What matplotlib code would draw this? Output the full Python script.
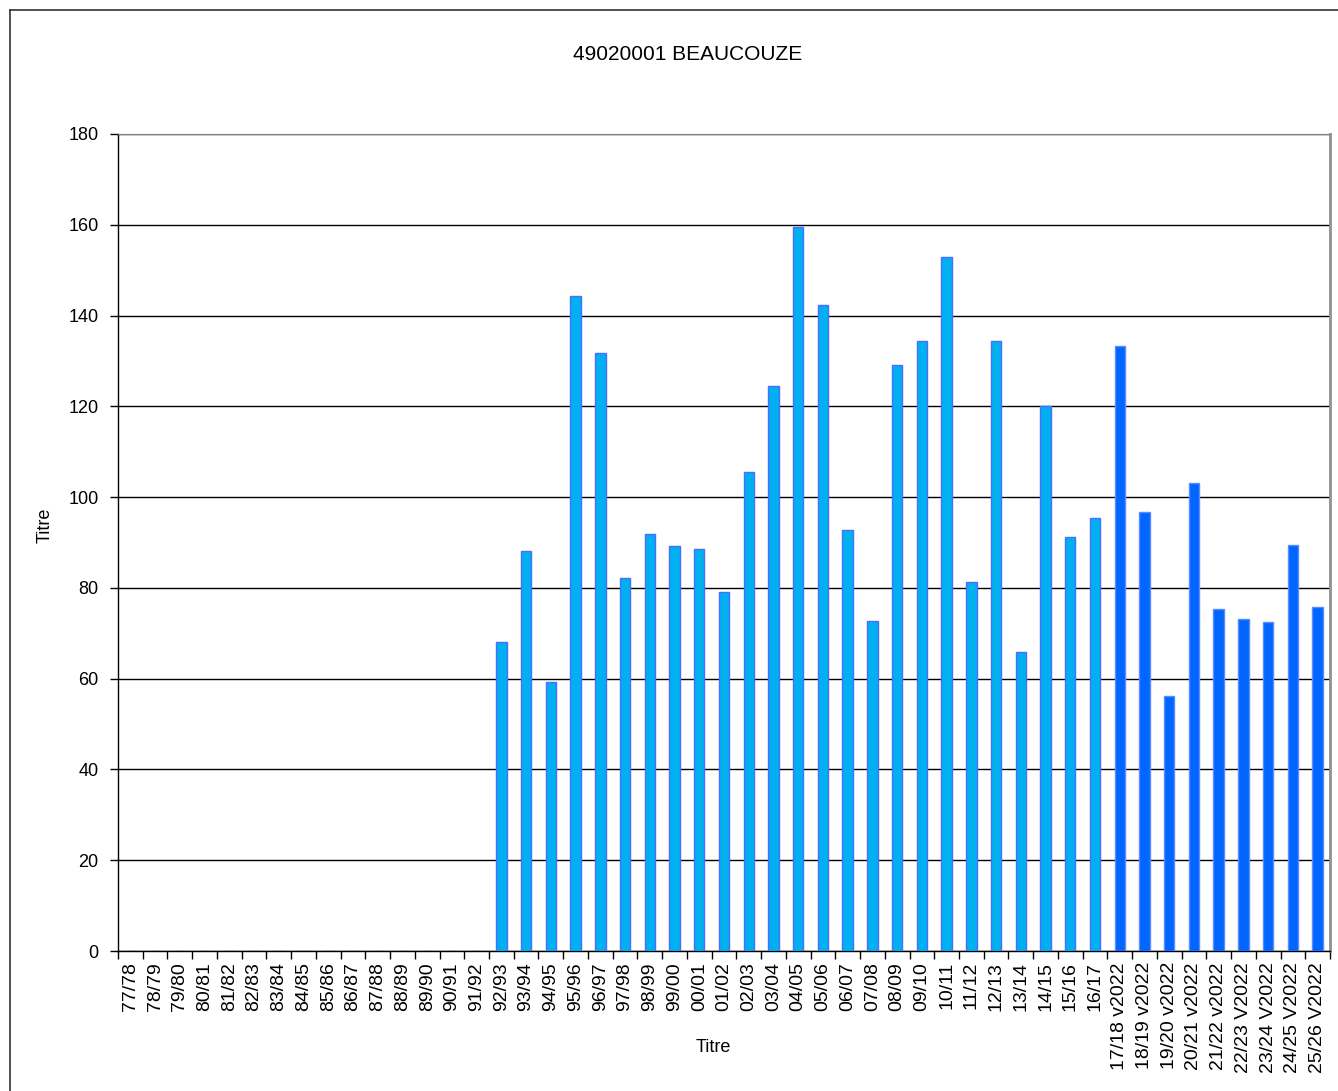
import matplotlib.pyplot as plt
import numpy as np
from matplotlib.lines import Line2D

plt.rcParams['font.family'] = ['Liberation Sans', 'DejaVu Sans']

# saisons 77/78 .. 16/17 (historique), puis saisons v2022 / V2022
seasons_old = [f"{y % 100:02d}/{(y + 1) % 100:02d}" for y in range(1977, 2017)]
seasons_v2022 = ["17/18 v2022", "18/19 v2022", "19/20 v2022", "20/21 v2022", "21/22 v2022",
                 "22/23 V2022", "23/24 V2022", "24/25 V2022", "25/26 V2022"]

values_old = [0] * 15 + [68.1, 88.1, 59.3, 144.3, 131.7, 82.2, 91.9, 89.2, 88.6, 79.1,
                         105.5, 124.5, 159.5, 142.3, 92.8, 72.7, 129.1, 134.4, 152.9, 81.3,
                         134.4, 65.9, 120.1, 91.2, 95.4]
values_v2022 = [133.3, 96.7, 56.2, 103.1, 75.3, 73.1, 72.5, 89.4, 75.8]

labels = seasons_old + seasons_v2022
n_old = len(seasons_old)
n_all = len(labels)

W, H = 1338, 1091
fig = plt.figure(figsize=(W / 100, H / 100), dpi=100)
ax = fig.add_axes([118 / W, 1 - 951 / H, (1330 - 118) / W, (951 - 134) / H])

x_old = np.arange(n_old)
x_new = np.arange(n_old, n_all)
ax.bar(x_old, values_old, width=0.42, color='#00B0F0', edgecolor='#4A6CFF', linewidth=1.0, zorder=3)
ax.bar(x_new, values_v2022, width=0.42, color='#0066FF', edgecolor='#5A8CFF', linewidth=1.0, zorder=3)

ax.set_xlim(-0.5, n_all - 0.5)
ax.set_ylim(0, 180)
ax.set_yticks(np.arange(0, 181, 20))
ax.yaxis.grid(True, color='black', linewidth=1.0, zorder=0)
ax.set_axisbelow(True)

ax.set_xticks(np.arange(n_all))
ax.set_xticklabels(labels, rotation=90, fontsize=14)
ax.set_xticks(np.arange(n_all + 1) - 0.5, minor=True)
ax.tick_params(axis='x', which='major', length=0, pad=8)
ax.tick_params(axis='x', which='minor', length=6, width=1, direction='out')
ax.tick_params(axis='y', length=6, width=1, direction='out', labelsize=13, pad=8)

for s in ['left', 'bottom']:
    ax.spines[s].set_color('black')
    ax.spines[s].set_linewidth(1.0)
ax.spines['top'].set_color('#808080')
ax.spines['right'].set_color('#909090')
ax.spines['right'].set_linewidth(2.0)

fig.text(713 / W, 1 - 1047 / H, 'Titre', fontsize=13, ha='center', va='center')
fig.text(45 / W, 1 - 525 / H, 'Titre', fontsize=13, ha='center', va='center', rotation=90)
fig.text(688 / W, 1 - 54 / H, '49020001 BEAUCOUZE', fontsize=15, ha='center', va='center')

# cadre extérieur du graphique
fig.add_artist(Line2D([10 / W, 10 / W], [0, 1 - 10 / H], color='#333333', linewidth=1.2))
fig.add_artist(Line2D([10 / W, 1], [1 - 10 / H, 1 - 10 / H], color='#333333', linewidth=1.2))

fig.savefig('out.png', dpi=100)
